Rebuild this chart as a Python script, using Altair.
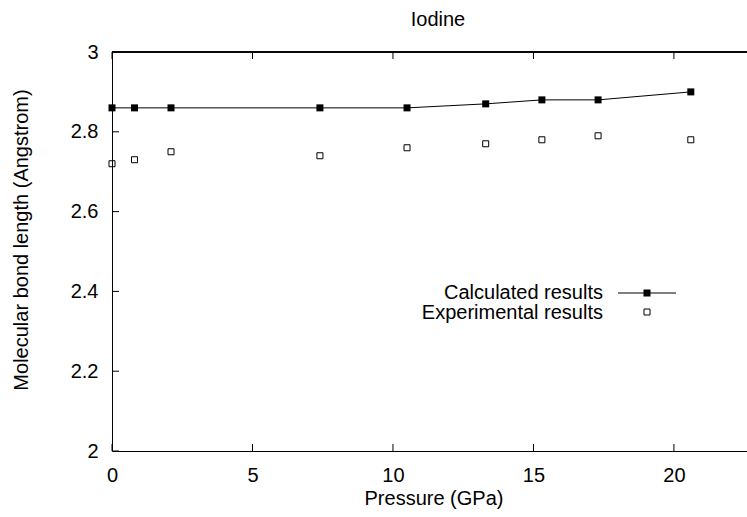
import altair as alt
import pandas as pd

# ---- data ----
pressure_calc = [0, 0.8, 2.1, 7.4, 10.5, 13.3, 15.3, 17.3, 20.6]
bond_calc = [2.86, 2.86, 2.86, 2.86, 2.86, 2.87, 2.88, 2.88, 2.90]
pressure_exp = [0, 0.8, 2.1, 7.4, 10.5, 13.3, 15.3, 17.3, 20.6]
bond_exp = [2.72, 2.73, 2.75, 2.74, 2.76, 2.77, 2.78, 2.79, 2.78]
x_ticks = [0, 5, 10, 15, 20]
y_ticks = [2.0, 2.2, 2.4, 2.6, 2.8, 3.0]
series_names = ["Calculated results", "Experimental results"]
chart_title = "Iodine"
x_title = "Pressure (GPa)"
y_title = "Molecular bond length (Angstrom)"

W, H = 635, 399
FONT = "Liberation Sans"
FS = 20

calc = pd.DataFrame({"p": pressure_calc, "b": bond_calc})
exp = pd.DataFrame({"p": pressure_exp, "b": bond_exp})
xt = pd.DataFrame({"p": x_ticks})
yt = pd.DataFrame({"b": y_ticks})

xs = alt.Scale(domain=[0, 22.6], nice=False, zero=False)
ys = alt.Scale(domain=[2, 3], nice=False, zero=False)

x_enc = alt.X("p:Q", scale=xs,
              axis=alt.Axis(values=x_ticks, format="d", title=None, ticks=False,
                            grid=False, labelPadding=14, domainColor="black",
                            labelFlush=False, labelOverlap=False,
                            labelFont=FONT, labelFontSize=FS, labelColor="black"))
y_enc = alt.Y("b:Q", scale=ys,
              axis=alt.Axis(values=y_ticks, format="~g", title=None, ticks=False,
                            grid=False, labelPadding=14, domainColor="black",
                            labelFlush=False, labelOverlap=False,
                            labelFont=FONT, labelFontSize=FS, labelColor="black"))

line = alt.Chart(calc).mark_line(color="black", strokeWidth=1).encode(x=x_enc, y=y_enc)
calc_pts = alt.Chart(calc).mark_point(shape="square", filled=True, color="black",
                                      size=49, opacity=1).encode(x="p:Q", y="b:Q")
exp_pts = alt.Chart(exp).mark_point(shape="square", filled=False, color="black",
                                    size=36, strokeWidth=1, opacity=1).encode(x="p:Q", y="b:Q")

# inward ticks (gnuplot style)
tick_bottom = alt.Chart(xt).mark_rule(color="black", strokeWidth=1).encode(
    x="p:Q", y=alt.value(H), y2=alt.value(H - 7))
tick_top = alt.Chart(xt).mark_rule(color="black", strokeWidth=1).encode(
    x="p:Q", y=alt.value(0), y2=alt.value(7))
tick_left = alt.Chart(yt).mark_rule(color="black", strokeWidth=1).encode(
    y="b:Q", x=alt.value(0), x2=alt.value(7))
top_border = alt.Chart(xt).mark_rule(color="black", strokeWidth=1).encode(
    x=alt.value(0), x2=alt.value(W), y=alt.value(0))

# titles
title_df = pd.DataFrame({"t": [chart_title]})
title_txt = alt.Chart(title_df).mark_text(font=FONT, fontSize=FS, color="black",
                                          align="center", baseline="middle").encode(
    text="t:N", x=alt.value(326), y=alt.value(-32))
xt_df = pd.DataFrame({"t": [x_title]})
xtitle_txt = alt.Chart(xt_df).mark_text(font=FONT, fontSize=FS, color="black",
                                        align="center", baseline="middle").encode(
    text="t:N", x=alt.value(322), y=alt.value(447))
yt_df = pd.DataFrame({"t": [y_title]})
ytitle_txt = alt.Chart(yt_df).mark_text(font=FONT, fontSize=FS, color="black",
                                        align="center", baseline="middle", angle=270).encode(
    text="t:N", x=alt.value(-90), y=alt.value(188))

# legend (gnuplot style: label left of sample)
leg1 = pd.DataFrame({"t": [series_names[0]]})
leg2 = pd.DataFrame({"t": [series_names[1]]})
leg_txt1 = alt.Chart(leg1).mark_text(font=FONT, fontSize=FS, color="black",
                                     align="right", baseline="middle").encode(
    text="t:N", x=alt.value(491), y=alt.value(241))
leg_txt2 = alt.Chart(leg2).mark_text(font=FONT, fontSize=FS, color="black",
                                     align="right", baseline="middle").encode(
    text="t:N", x=alt.value(491), y=alt.value(261))
leg_line = alt.Chart(leg1).mark_rule(color="black", strokeWidth=1).encode(
    x=alt.value(506), x2=alt.value(564), y=alt.value(241))
leg_sq1 = alt.Chart(leg1).mark_point(shape="square", filled=True, color="black",
                                     size=49, opacity=1).encode(
    x=alt.value(535), y=alt.value(241))
leg_sq2 = alt.Chart(leg2).mark_point(shape="square", filled=False, color="black",
                                     size=36, strokeWidth=1, opacity=1).encode(
    x=alt.value(535), y=alt.value(260))

chart = alt.layer(
    line, calc_pts, exp_pts, tick_bottom, tick_top, tick_left, top_border,
    title_txt, xtitle_txt, ytitle_txt,
    leg_txt1, leg_txt2, leg_line, leg_sq1, leg_sq2,
).properties(
    width=W, height=H,
    autosize=alt.AutoSizeParams(type="none"),
    padding={"left": 112, "top": 52, "right": 0, "bottom": 66},
    background="white",
).configure_view(stroke=None)

chart.save("out.html", embed_options={"renderer": "svg", "actions": False})
